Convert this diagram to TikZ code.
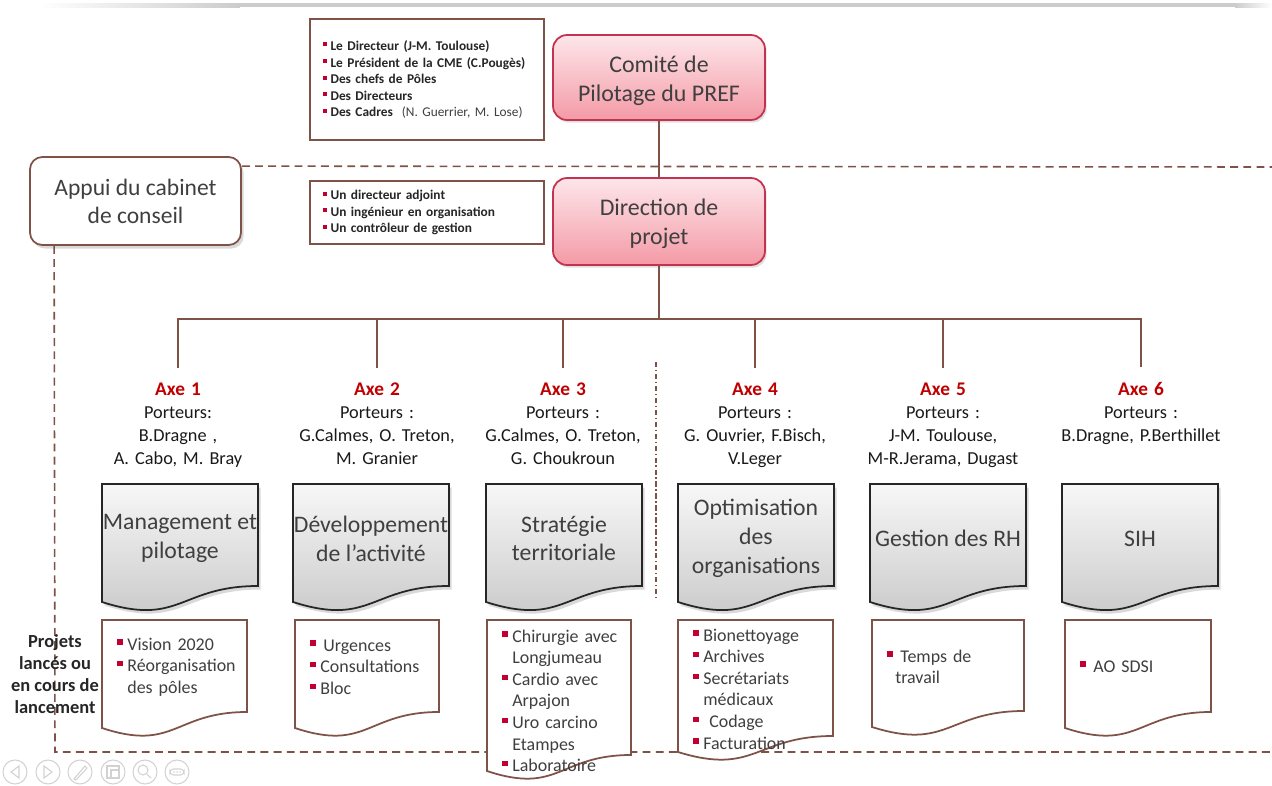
\documentclass[tikz,border=0pt]{standalone}
\usepackage{fontspec}
\setmainfont{Carlito}
\usetikzlibrary{positioning, shadows}

\definecolor{brownln}{HTML}{7F5247}
\definecolor{axered}{HTML}{C00000}
\definecolor{bulred}{HTML}{C00030}
\definecolor{pinktop}{HTML}{FDE6EA}
\definecolor{pinkbot}{HTML}{F49AA6}
\definecolor{pinkln}{HTML}{C2334F}
\definecolor{txtgray}{HTML}{3F3F3F}

\newcommand{\blt}{\textcolor{bulred}{\rule[0.62ex]{0.62ex}{0.62ex}}\hspace{0.55ex}}
\newcommand{\gap}{\hphantom{\blt}}

\begin{document}
\begin{tikzpicture}[x=0.02cm, y=-0.02cm,
  conn/.style={draw=brownln, line width=0.9pt},
  framedash/.style={draw=brownln, line width=0.9pt, dash pattern=on 4.5pt off 3pt},
  pilot/.style={draw=pinkln, line width=1pt, rounded corners=8pt,
    top color=pinktop, bottom color=pinkbot, minimum width=4.24cm,
    align=center, text=txtgray, font=\fontsize{13.6}{16.2}\selectfont,
    drop shadow={opacity=0.25, shadow xshift=1pt, shadow yshift=-1.5pt}},
  advbox/.style={draw=brownln, line width=1pt, rounded corners=7pt, fill=white,
    minimum width=4.22cm, minimum height=1.76cm, align=center, text=txtgray,
    font=\fontsize{13.4}{16}\selectfont,
    drop shadow={opacity=0.3, shadow xshift=1.5pt, shadow yshift=-2pt}},
  memo/.style={draw=brownln, line width=0.9pt, fill=white, minimum width=4.68cm,
    text width=4.16cm, inner xsep=0.26cm, align=left, text=black!85,
    font=\fontsize{7.6}{9.4}\selectfont\bfseries},
  axe/.style={text width=3.8cm, align=center, inner ysep=8pt, text=black!90,
    font=\fontsize{10.4}{13.1}\selectfont},
  docgray/.style={draw=black!85, line width=1pt, top color=gray!6, bottom color=gray!44,
    drop shadow={opacity=0.3, shadow xshift=1.5pt, shadow yshift=-2pt}},
  docwhite/.style={draw=brownln, line width=1pt, fill=white},
  doctext/.style={align=center, text=txtgray, font=\fontsize{13.5}{16.4}\selectfont},
  lsttext/.style={anchor=base west, text width=3cm, align=left, inner sep=0pt,
    text=txtgray, font=\fontsize{10.2}{12.3}\selectfont},
  icon/.style={draw=gray!35, line width=0.6pt}
]
\useasboundingbox (0,0) rectangle (1272,785);

% --- top shading strip ---
\shade[left color=white, right color=gray!40] (40,3) rectangle (240,7);
\fill[gray!40] (240,3) rectangle (1235,7);
\shade[left color=gray!40, right color=white] (1235,3) rectangle (1272,7);

% --- frame of the project ---
\coordinate (fr1) at (1272,167);
\coordinate (fr2) at (55,752);
\coordinate (fr3) at (1272,752);
\node[advbox] (ap) at (135.5,201) {Appui du cabinet\\de conseil};
\draw[framedash] (ap.north east) ++(0,10) -- (fr1);
\draw[framedash] (ap.south west) ++(25,0) -- (fr2) -- (fr3);

% separator between axes 3 and 4
\coordinate (sp1) at (656,362);
\coordinate (sp2) at (656,600);
\draw[brownln, line width=0.8pt, dash pattern=on 3pt off 1.5pt on 0.8pt off 1.5pt] (sp1) -- (sp2);

% --- steering ---
\node[pilot, minimum height=1.7cm] (cp) at (659,77.5) {\rule{0pt}{13pt}Comité de\\Pilotage du PREF};
\node[pilot, minimum height=1.74cm] (dp) at (659,221.5) {\rule{0pt}{12pt}Direction de\\projet};
\draw[conn] (cp.south) -- (dp.north);

\node[memo, minimum height=2.42cm] (mem1) at (427,79.5) {\blt Le Directeur (J-M. Toulouse)\\
  \blt Le Président de la CME (C.Pougès)\\
  \blt Des chefs de Pôles\\
  \blt Des Directeurs\\
  \blt Des Cadres\ \ {\mdseries\color{txtgray}(N. Guerrier, M. Lose)}};
\node[memo, minimum height=1.26cm] (mem2) at (427,212.5) {\blt Un directeur adjoint\\
  \blt Un ingénieur en organisation\\
  \blt Un contrôleur de gestion};

% --- axes ---
\foreach \n/\x/\txt in {1/178/{Porteurs:\\B.Dragne ,\\A. Cabo, M. Bray},
    2/377/{Porteurs :\\G.Calmes, O. Treton,\\M. Granier},
    3/563/{Porteurs :\\G.Calmes, O. Treton,\\G. Choukroun},
    4/755/{Porteurs :\\G. Ouvrier, F.Bisch,\\V.Leger},
    5/943/{Porteurs :\\J-M. Toulouse,\\M-R.Jerama, Dugast},
    6/1141/{Porteurs :\\B.Dragne, P.Berthillet}} {
  \node[axe, anchor=base] (ax\n) at (\x,395)
    {{\fontsize{11}{13.1}\selectfont\bfseries\color{axered}Axe \n}\\\txt};
  \draw[conn] (dp.south) -- ++(0,53) -| (ax\n.north);
}

% --- themes ---
\foreach \x/\txt [count=\i] in {102/{Management et\\pilotage},
    293/{Développement\\de l’activité}, 486/{Stratégie\\territoriale},
    678/{Optimisation\\des\\organisations}, 870/{Gestion des RH}, 1062/{SIH}} {
  \draw[docgray] (\x,484) -- ({\x+156},484) -- ({\x+156},586)
    .. controls ({\x+78},586) and ({\x+78},627) .. (\x,602) -- cycle;
  \node[doctext] (doc\i) at ({\x+78},538.5) {\txt};
}

% --- projects ---
\foreach \x/\w/\h/\b/\txt [count=\i] in {
    102/145/712/650/{\blt Vision 2020\\ \blt Réorganisation\\ \gap des pôles},
    295/144/712/651/{\blt\,Urgences\\ \blt Consultations\\ \blt Bloc},
    487/144/755/642/{\blt Chirurgie avec\\ \gap Longjumeau\\ \blt Cardio avec\\ \gap Arpajon\\
      \blt Uro carcino\\ \gap Etampes\\ \blt Laboratoire},
    678/155/736/641/{\blt Bionettoyage\\ \blt Archives\\ \blt Secrétariats\\ \gap médicaux\\
      \blt\ Codage\\ \blt Facturation},
    872/152/711/662/{\blt\,Temps de\\ \hspace*{4.5pt}travail},
    1065/146/712/672/{\blt\,AO SDSI}} {
  \draw[docwhite] (\x,620) -- ({\x+\w},620) -- ({\x+\w},\h)
    .. controls ({\x+\w/2},\h) and ({\x+\w/2},{\h+40}) .. (\x,{\h+16}) -- cycle;
  \node[lsttext] (lst\i) at ({\x+15},\b) {\txt};
}

\node[align=center, text=black!85, font=\fontsize{10.5}{12.6}\selectfont\bfseries]
  (lbl) at (55,674) {Projets\\lancés ou\\en cours de\\lancement};

% --- player buttons ---
\foreach \x in {15,48,80,113,145,177}
  \draw[icon] (\x,772) circle (12);
\draw[icon] (19,766) -- (11,772) -- (19,778) -- cycle;
\draw[icon] (44,766) -- (52,772) -- (44,778) -- cycle;
\draw[icon] (74,779) -- (85,766) -- (87,768) -- (76,780) -- cycle;
\draw[icon] (107,766) rectangle (119,778);
\draw[icon] (111,770) rectangle (119,778);
\draw[icon] (143,770) circle (5);
\draw[icon] (147,774) -- (151,778);
\draw[icon, rounded corners=2pt] (170,769) rectangle (184,775);
\foreach \x in {174,177,180}
  \fill[gray!35] (\x,772) circle (0.8);

\end{tikzpicture}
\end{document}
